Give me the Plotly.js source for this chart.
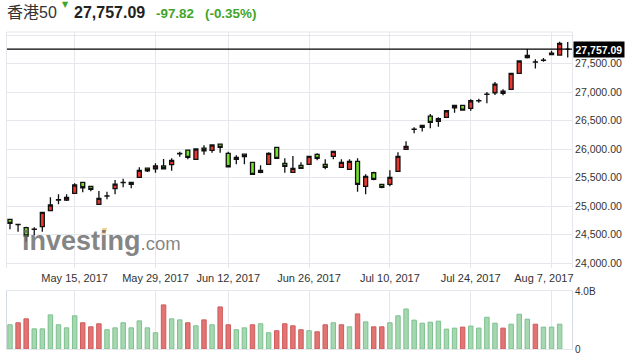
<!DOCTYPE html>
<html>
<head>
<meta charset="utf-8">
<script src="https://cdn.plot.ly/plotly-3.0.1.min.js"></script>
<style>html,body{margin:0;padding:0;background:#fff;}#chart{width:629px;height:356px;}</style>
</head>
<body>
<div id="chart"></div>
<script>
// ---- data ----
var instrument = '香港50';
var lastPrice = 27757.09;
var change = -97.82;
var changePct = -0.35;

var dates = ['2017-05-02','2017-05-04','2017-05-05','2017-05-08','2017-05-09','2017-05-10','2017-05-11','2017-05-12','2017-05-15','2017-05-16','2017-05-17','2017-05-18','2017-05-19','2017-05-22','2017-05-23','2017-05-24','2017-05-25','2017-05-26','2017-05-29','2017-05-31','2017-06-01','2017-06-02','2017-06-05','2017-06-06','2017-06-07','2017-06-08','2017-06-09','2017-06-12','2017-06-13','2017-06-14','2017-06-15','2017-06-16','2017-06-19','2017-06-20','2017-06-21','2017-06-22','2017-06-23','2017-06-26','2017-06-27','2017-06-28','2017-06-29','2017-06-30','2017-07-03','2017-07-04','2017-07-05','2017-07-06','2017-07-07','2017-07-10','2017-07-11','2017-07-12','2017-07-13','2017-07-14','2017-07-17','2017-07-18','2017-07-19','2017-07-20','2017-07-21','2017-07-24','2017-07-25','2017-07-26','2017-07-27','2017-07-28','2017-07-31','2017-08-01','2017-08-02','2017-08-03','2017-08-04','2017-08-07','2017-08-08','2017-08-09'];

var open  = [24771,24684,24624,24596,24642,24922,25110,25110,25227,25420,25350,25034,25180,25308,25413,25385,25508,25670,25658,25706,25729,25921,25986,25823,26021,25981,26091,25928,25823,25916,25770,25595,25735,26033,25753,25595,25718,25735,25911,25735,25876,25683,25648,25788,25350,25588,25385,25385,25613,25998,26349,26419,26582,26489,26559,26769,26769,26717,26850,26962,26991,27020,27050,27330,27646,27529,27559,27687,27652,27757.09];
var high  = [24780,24690,24642,24631,24900,25157,25210,25210,25402,25425,25355,25267,25255,25460,25483,25425,25683,25675,25753,25828,25840,25956,25990,26010,26068,26080,26095,25956,25893,25920,25775,25718,25946,26040,25840,25881,25770,25880,25928,25823,25968,25823,25823,25840,25560,25606,25390,25630,25946,26138,26384,26424,26617,26559,26687,26774,26774,26875,26885,27003,27180,27050,27335,27552,27757,27576,27600,27728,27885,27880];
var low   = [24596,24554,24379,24496,24554,24915,25034,25092,25220,25245,25262,25030,25122,25210,25332,25315,25500,25600,25588,25650,25623,25869,25823,25818,25905,25939,25939,25690,25735,25735,25555,25578,25730,25835,25588,25590,25660,25730,25806,25648,25823,25678,25643,25255,25210,25455,25315,25350,25608,25993,26279,26310,26367,26395,26554,26640,26682,26675,26815,26805,26950,26945,27045,27325,27590,27418,27535,27650,27640,27610];
var close = [24701,24680,24479,24600,24894,25022,25114,25157,25373,25325,25297,25139,25184,25390,25417,25420,25630,25623,25706,25658,25806,25925,25858,26004,25974,26074,26033,25693,25858,25869,25560,25630,25928,25840,25700,25665,25665,25876,25840,25683,25963,25770,25788,25385,25525,25472,25332,25508,25876,26050,26353,26384,26472,26535,26675,26728,26687,26850,26854,26966,27142,26980,27330,27547,27605,27533,27563,27658,27855,27757.09];

// volume in billions, and bar direction colour key (g = green, r = red)
var volumeB = [1.67,1.81,2.08,1.39,1.39,2.35,1.67,1.46,2.29,1.81,1.53,1.74,1.33,1.46,1.81,1.46,1.94,1.46,1.12,3.04,2.08,2.01,1.81,1.60,2.01,1.67,2.90,1.67,1.33,1.46,1.67,1.74,1.12,1.26,1.74,1.60,1.33,1.26,1.19,1.67,1.81,1.67,1.53,2.42,1.87,1.53,1.53,1.81,2.29,2.76,1.99,1.78,1.85,1.92,1.37,1.44,1.51,1.58,1.44,2.19,1.78,1.44,1.71,2.40,2.06,1.71,1.51,1.51,1.71,null];
var volumeDir = ['g','r','r','g','g','g','g','g','g','r','r','r','g','g','g','g','g','g','g','r','g','g','r','g','r','g','r','r','g','g','r','g','g','r','r','r','r','g','r','r','g','r','g','r','g','r','r','g','g','g','g','g','g','g','g','g','r','g','g','g','g','r','g','g','g','r','g','g','g','g'];

var dateTickVals = ['2017-05-15','2017-05-29','2017-06-12','2017-06-26','2017-07-10','2017-07-24','2017-08-07'];
var dateTickText = ['May 15, 2017','May 29, 2017','Jun 12, 2017','Jun 26, 2017','Jul 10, 2017','Jul 24, 2017','Aug 7, 2017\u00a0\u00a0\u00a0\u00a0\u00a0'];
var priceTickVals = [24000,24500,25000,25500,26000,26500,27000,27500,28000];
var priceTickText = ['24,000.00','24,500.00','25,000.00','25,500.00','26,000.00','26,500.00','27,000.00','27,500.00',''];
var volTickVals = [0,4];
var volTickText = ['0','4.0B'];

// ---- styling ----
var FONT = 'Liberation Sans, Arial, Helvetica, sans-serif';
var GRID = '#e6e7ec';
var GREEN_TXT = '#3fa52a';
var volFill = volumeDir.map(function(d){ return d === 'g' ? '#a5d8b0' : '#e27474'; });
var volLine = volumeDir.map(function(d){ return d === 'g' ? '#7dc08f' : '#cf5b5b'; });

function fmt(v){ return v.toLocaleString('en-US',{minimumFractionDigits:2,maximumFractionDigits:2}); }

var candles = {
  type:'candlestick', x:dates, open:open, high:high, low:low, close:close,
  xaxis:'x', yaxis:'y',
  increasing:{fillcolor:'#e8372f', line:{color:'#111', width:1.3}},
  decreasing:{fillcolor:'#74df2c', line:{color:'#111', width:1.3}},
  whiskerwidth:0, hoverinfo:'skip', showlegend:false
};
var vol = {
  type:'bar', x:dates, y:volumeB, xaxis:'x2', yaxis:'y2',
  marker:{color:volFill, line:{color:volLine, width:1}},
  width:0.55, hoverinfo:'skip', showlegend:false
};

function px2x(px){ return (px-7)/565; }
function px2y(py){ return (349-py)/317; }

var layout = {
  width:629, height:356,
  margin:{l:7, r:57, t:32, b:7},
  paper_bgcolor:'#fff', plot_bgcolor:'#fff',
  font:{family:FONT, size:11, color:'#333'},
  showlegend:false,
  xaxis:{
    type:'category', domain:[0,1], anchor:'y',
    range:[-0.37, 69.53],
    tickvals:dateTickVals, ticktext:dateTickText,
    showgrid:true, gridcolor:GRID, gridwidth:1,
    ticks:'', showline:false, zeroline:false, ticklabelstandoff:2,
    tickfont:{family:FONT, size:11, color:'#333'},
    rangeslider:{visible:false}, fixedrange:true
  },
  yaxis:{
    domain:[px2y(268),1], anchor:'x', side:'right',
    range:[23917.6, 28055.9],
    tickvals:priceTickVals, ticktext:priceTickText,
    showgrid:true, gridcolor:GRID, zeroline:false,
    showline:true, mirror:true, linecolor:GRID,
    ticks:'', tickfont:{family:FONT, size:10.5, color:'#333'}
  },
  xaxis2:{
    type:'category', domain:[0,1], anchor:'y2', matches:'x',
    tickvals:dateTickVals, showticklabels:false,
    showgrid:true, gridcolor:GRID, ticks:'',
    showline:true, mirror:true, linecolor:GRID, zeroline:false,
    rangeslider:{visible:false}
  },
  yaxis2:{
    domain:[0, px2y(291)], anchor:'x2', side:'right',
    range:[0,4], tickvals:volTickVals, ticktext:volTickText,
    showgrid:false, zeroline:false,
    showline:true, mirror:true, linecolor:'#d5dbe5',
    ticks:'', tickfont:{family:FONT, size:10, color:'#333'}
  },
  shapes:[
    {type:'line', xref:'paper', yref:'paper', x0:0, x1:1, y0:1, y1:1, line:{color:GRID, width:1}},
    {type:'line', xref:'paper', yref:'y', x0:0, x1:1, y0:lastPrice, y1:lastPrice, line:{color:'#000', width:1.3}},
    {type:'path', xref:'paper', yref:'paper', layer:'above',
     path:'M '+px2x(102.6)+','+px2y(228)+' L '+px2x(107)+','+px2y(228)+' L '+px2x(105.6)+','+px2y(234)+' L '+px2x(101.4)+','+px2y(234)+' Z',
     fillcolor:'rgba(245,196,120,0.85)', line:{width:0}}
  ],
  annotations:[
    {xref:'paper', yref:'y', x:1, y:lastPrice, xanchor:'left', yanchor:'middle', xshift:1,
     text:'<b>'+fmt(lastPrice)+'</b>', showarrow:false, bgcolor:'#000', borderpad:1.5,
     font:{family:FONT, size:10.5, color:'#fff'}},
    {xref:'paper', yref:'paper', x:px2x(5), y:px2y(13), xanchor:'left', yanchor:'middle',
     text:instrument, showarrow:false, font:{family:'Liberation Sans, Noto Sans CJK SC, sans-serif', size:16, color:'#333'}},
    {xref:'paper', yref:'paper', x:px2x(65.8), y:px2y(4.8), xanchor:'center', yanchor:'middle',
     text:'▼', showarrow:false, font:{family:'DejaVu Sans, sans-serif', size:8, color:GREEN_TXT}},
    {xref:'paper', yref:'paper', x:px2x(72), y:px2y(13), xanchor:'left', yanchor:'middle',
     text:'<b>'+fmt(lastPrice)+'</b>', showarrow:false, font:{family:FONT, size:16, color:'#222'}},
    {xref:'paper', yref:'paper', x:px2x(154), y:px2y(13.5), xanchor:'left', yanchor:'middle',
     text:'<b>'+change.toFixed(2)+'</b>', showarrow:false, font:{family:FONT, size:13.4, color:GREEN_TXT}},
    {xref:'paper', yref:'paper', x:px2x(203), y:px2y(13.5), xanchor:'left', yanchor:'middle',
     text:'<b>('+changePct.toFixed(2)+'%)</b>', showarrow:false, font:{family:FONT, size:13.4, color:GREEN_TXT}},
    {xref:'paper', yref:'paper', x:px2x(19.5), y:px2y(241), xanchor:'left', yanchor:'middle',
     text:'<b>investing</b><span style="font-size:18.5px">.com</span>', showarrow:false,
     font:{family:FONT, size:27, color:'rgba(105,105,105,0.82)'}}
  ]
};

Plotly.newPlot('chart', [candles, vol], layout, {staticPlot:true, displayModeBar:false});
</script>
</body>
</html>
